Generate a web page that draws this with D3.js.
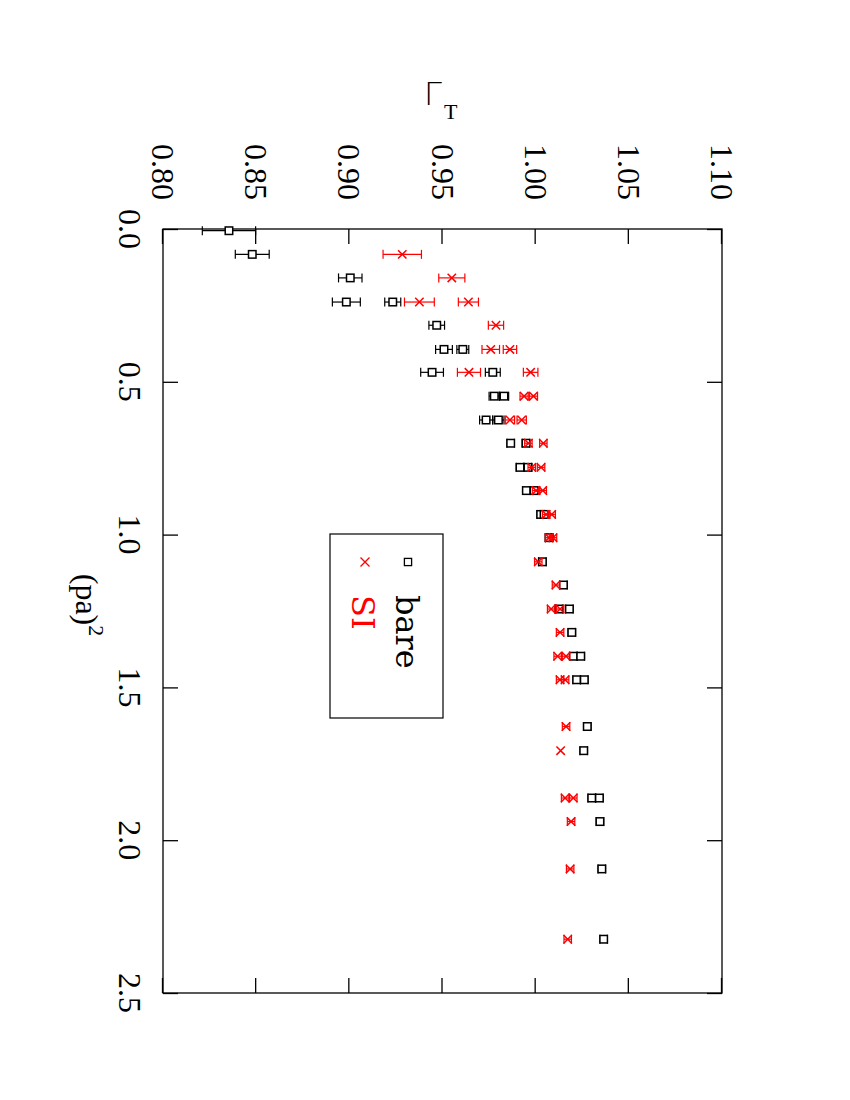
<!DOCTYPE html>
<html>
<head>
<meta charset="utf-8">
<script src="https://cdn.jsdelivr.net/npm/d3@7"></script>
<style>
  html, body { margin: 0; padding: 0; background: #fff; }
  svg text { font-family: "Liberation Serif", "DejaVu Serif", serif; }
</style>
</head>
<body>
<svg id="chart" width="850" height="1100"></svg>
<script>
// ---- data ----
const barePa    = [0.0056, 0.083, 0.160, 0.239, 0.239, 0.315, 0.394, 0.394, 0.469, 0.469,
                   0.547, 0.547, 0.625, 0.625, 0.701, 0.701, 0.780, 0.780, 0.856, 0.856,
                   0.934, 0.934, 1.010, 1.089, 1.165, 1.2435, 1.2435, 1.320, 1.398, 1.398,
                   1.475, 1.475, 1.628, 1.707, 1.862, 1.862, 1.939, 2.094, 2.324];
const bareGamma = [0.8354, 0.8479, 0.9005, 0.8984, 0.9233, 0.9469, 0.9508, 0.9609, 0.9444, 0.9770,
                   0.9778, 0.9830, 0.9734, 0.9800, 0.9866, 0.9948, 0.9916, 0.9959, 0.9950, 0.9991,
                   1.0027, 1.0045, 1.0072, 1.0036, 1.0149, 1.0125, 1.0181, 1.0194, 1.0202, 1.0242,
                   1.0220, 1.0261, 1.0277, 1.0258, 1.0301, 1.0342, 1.0345, 1.0355, 1.0365];
const bareErr   = [0.0143, 0.0091, 0.0063, 0.0075, 0.0043, 0.0042, 0.0045, 0.0032, 0.0061, 0.0040,
                   0.0028, 0.0025, 0.0035, 0.0030, 0.0020, 0.0020, 0.0020, 0.0020, 0.0020, 0.0020,
                   0.0020, 0.0020, 0.0020, 0.0020, 0.0020, 0.0020, 0.0020, 0.0020, 0.0020, 0.0020,
                   0.0020, 0.0020, 0.0020, 0.0020, 0.0020, 0.0020, 0.0020, 0.0020, 0.0020];

const siPa    = [0.083, 0.160, 0.239, 0.239, 0.315, 0.394, 0.394, 0.469, 0.469, 0.547,
                 0.547, 0.625, 0.625, 0.701, 0.701, 0.780, 0.780, 0.856, 0.856, 0.934,
                 0.934, 1.010, 1.010, 1.089, 1.165, 1.2435, 1.2435, 1.320, 1.398, 1.398,
                 1.475, 1.475, 1.628, 1.707, 1.862, 1.862, 1.939, 2.094, 2.324];
const siGamma = [0.9284, 0.9550, 0.9376, 0.9639, 0.9787, 0.9759, 0.9862, 0.9642, 0.9973, 0.9938,
                 0.9988, 0.9862, 0.9925, 0.9961, 1.0041, 0.9979, 1.0029, 1.0002, 1.0038, 1.0056,
                 1.0086, 1.0072, 1.0093, 1.0014, 1.0109, 1.0083, 1.0131, 1.0131, 1.0118, 1.0163,
                 1.0131, 1.0158, 1.0163, 1.0134, 1.0158, 1.0202, 1.0190, 1.0185, 1.0172];
const siErr   = [0.0103, 0.0070, 0.0080, 0.0054, 0.0041, 0.0047, 0.0036, 0.0062, 0.0039, 0.0022,
                 0.0022, 0.0025, 0.0025, 0.0020, 0.0020, 0.0020, 0.0020, 0.0020, 0.0020, 0.0020,
                 0.0020, 0.0020, 0.0020, 0.0020, 0.0020, 0.0020, 0.0020, 0.0020, 0.0020, 0.0020,
                 0.0020, 0.0020, 0.0020, 0.0000, 0.0020, 0.0020, 0.0020, 0.0020, 0.0020];

const xTicks = [0.0, 0.5, 1.0, 1.5, 2.0, 2.5];
const yTicks = [0.80, 0.85, 0.90, 0.95, 1.00, 1.05, 1.10];
const seriesNames = ["bare", "SI"];
const seriesColors = ["#000000", "#ff0000"];

// ---- layout (chart drawn unrotated, then rotated 90° clockwise) ----
const W = 764, H = 559;
const svg = d3.select("#chart");
const g = svg.append("g").attr("transform", "translate(722,229) rotate(90)");

const x = d3.scaleLinear().domain([0, 2.5]).range([0, W]);
const y = d3.scaleLinear().domain([0.80, 1.10]).range([H, 0]);

const tickLen = 15;
const axisStroke = 1.3;

// frame
g.append("rect").attr("x", 0).attr("y", 0).attr("width", W).attr("height", H)
  .attr("fill", "none").attr("stroke", "#000").attr("stroke-width", axisStroke);

// axes with inward ticks (mirrored)
const fmtX = d3.format(".1f"), fmtY = d3.format(".2f");
function styleAxis(sel) {
  sel.select(".domain").remove();
  sel.selectAll(".tick line").attr("stroke", "#000").attr("stroke-width", axisStroke);
}
g.append("g").attr("transform", `translate(0,${H})`)
  .call(d3.axisBottom(x).tickValues(xTicks).tickSize(-tickLen).tickFormat(""))
  .call(styleAxis);
g.append("g")
  .call(d3.axisTop(x).tickValues(xTicks).tickSize(-tickLen).tickFormat(""))
  .call(styleAxis);
g.append("g")
  .call(d3.axisLeft(y).tickValues(yTicks).tickSize(-tickLen).tickFormat(""))
  .call(styleAxis);
g.append("g").attr("transform", `translate(${W},0)`)
  .call(d3.axisRight(y).tickValues(yTicks).tickSize(-tickLen).tickFormat(""))
  .call(styleAxis);

// tick labels
const fs = 32;
g.selectAll(".xlab").data(xTicks).enter().append("text")
  .attr("x", d => x(d)).attr("y", H + 44)
  .attr("text-anchor", "middle").attr("font-size", fs).text(d => fmtX(d));
g.selectAll(".ylab").data(yTicks).enter().append("text")
  .attr("x", -29).attr("y", d => y(d) + 11)
  .attr("text-anchor", "end").attr("font-size", fs).text(d => fmtY(d));

// axis title (pa)^2
const xt = g.append("text").attr("x", W / 2 - 6).attr("y", H + 87)
  .attr("text-anchor", "middle").attr("font-size", fs);
xt.append("tspan").text("(pa)");
xt.append("tspan").attr("font-size", 22).attr("dy", -13).text("2");

// y title Γ_T (horizontal on the page)
svg.append("text").attr("x", 424).attr("y", 104.5).attr("font-size", 32)
  .attr("font-weight", 200)
  .style("font-family", "'DejaVu Sans', 'Liberation Sans', sans-serif").text("Γ");
svg.append("text").attr("x", 444).attr("y", 118.5).attr("font-size", 22).text("T");

// ---- marks ----
const capHalf = 4.5, sq = 7.5, xs = 4.2;
function drawSeries(pa, gam, err, color, kind) {
  const data = pa.map((p, i) => ({ p, v: gam[i], e: err[i] }));
  const sg = g.append("g").attr("stroke", color).attr("fill", "none").attr("stroke-width", 1.2);
  const bars = data.filter(d => d.e > 0);
  sg.selectAll(".eb").data(bars).enter().append("line")
    .attr("x1", d => x(d.p)).attr("x2", d => x(d.p))
    .attr("y1", d => y(d.v - d.e)).attr("y2", d => y(d.v + d.e));
  sg.selectAll(".cap1").data(bars).enter().append("line")
    .attr("x1", d => x(d.p) - capHalf).attr("x2", d => x(d.p) + capHalf)
    .attr("y1", d => y(d.v - d.e)).attr("y2", d => y(d.v - d.e));
  sg.selectAll(".cap2").data(bars).enter().append("line")
    .attr("x1", d => x(d.p) - capHalf).attr("x2", d => x(d.p) + capHalf)
    .attr("y1", d => y(d.v + d.e)).attr("y2", d => y(d.v + d.e));
  const mg = sg.append("g").attr("stroke-width", 1.5);
  if (kind === "square") {
    mg.selectAll("rect").data(data).enter().append("rect")
      .attr("x", d => x(d.p) - sq / 2).attr("y", d => y(d.v) - sq / 2)
      .attr("width", sq).attr("height", sq).attr("fill", "#fff");
  } else {
    mg.selectAll("path").data(data).enter().append("path")
      .attr("d", d => {
        const cx = x(d.p), cy = y(d.v);
        return `M${cx - xs},${cy - xs}L${cx + xs},${cy + xs}M${cx - xs},${cy + xs}L${cx + xs},${cy - xs}`;
      });
  }
}
drawSeries(barePa, bareGamma, bareErr, seriesColors[0], "square");
drawSeries(siPa, siGamma, siErr, seriesColors[1], "cross");

// ---- legend ----
const lg = g.append("g");
lg.append("rect").attr("x", 305).attr("y", 279).attr("width", 184).attr("height", 113)
  .attr("fill", "none").attr("stroke", "#000").attr("stroke-width", 1.2);
lg.append("rect").attr("x", 333 - 3.6).attr("y", 314 - 3.6).attr("width", 7.2).attr("height", 7.2)
  .attr("fill", "none").attr("stroke", seriesColors[0]).attr("stroke-width", 1.3);
lg.append("path").attr("d", "M328.5,352.5L337.5,361.5M328.5,361.5L337.5,352.5")
  .attr("stroke", seriesColors[1]).attr("stroke-width", 1.3);
lg.append("text").attr("x", 366).attr("y", 326).attr("font-size", 32)
  .style("font-family", "'DejaVu Serif', serif")
  .attr("fill", seriesColors[0]).text(seriesNames[0]);
lg.append("text").attr("x", 366).attr("y", 370).attr("font-size", 32)
  .style("font-family", "'DejaVu Serif', serif")
  .attr("fill", seriesColors[1]).text(seriesNames[1]);
</script>
</body>
</html>
